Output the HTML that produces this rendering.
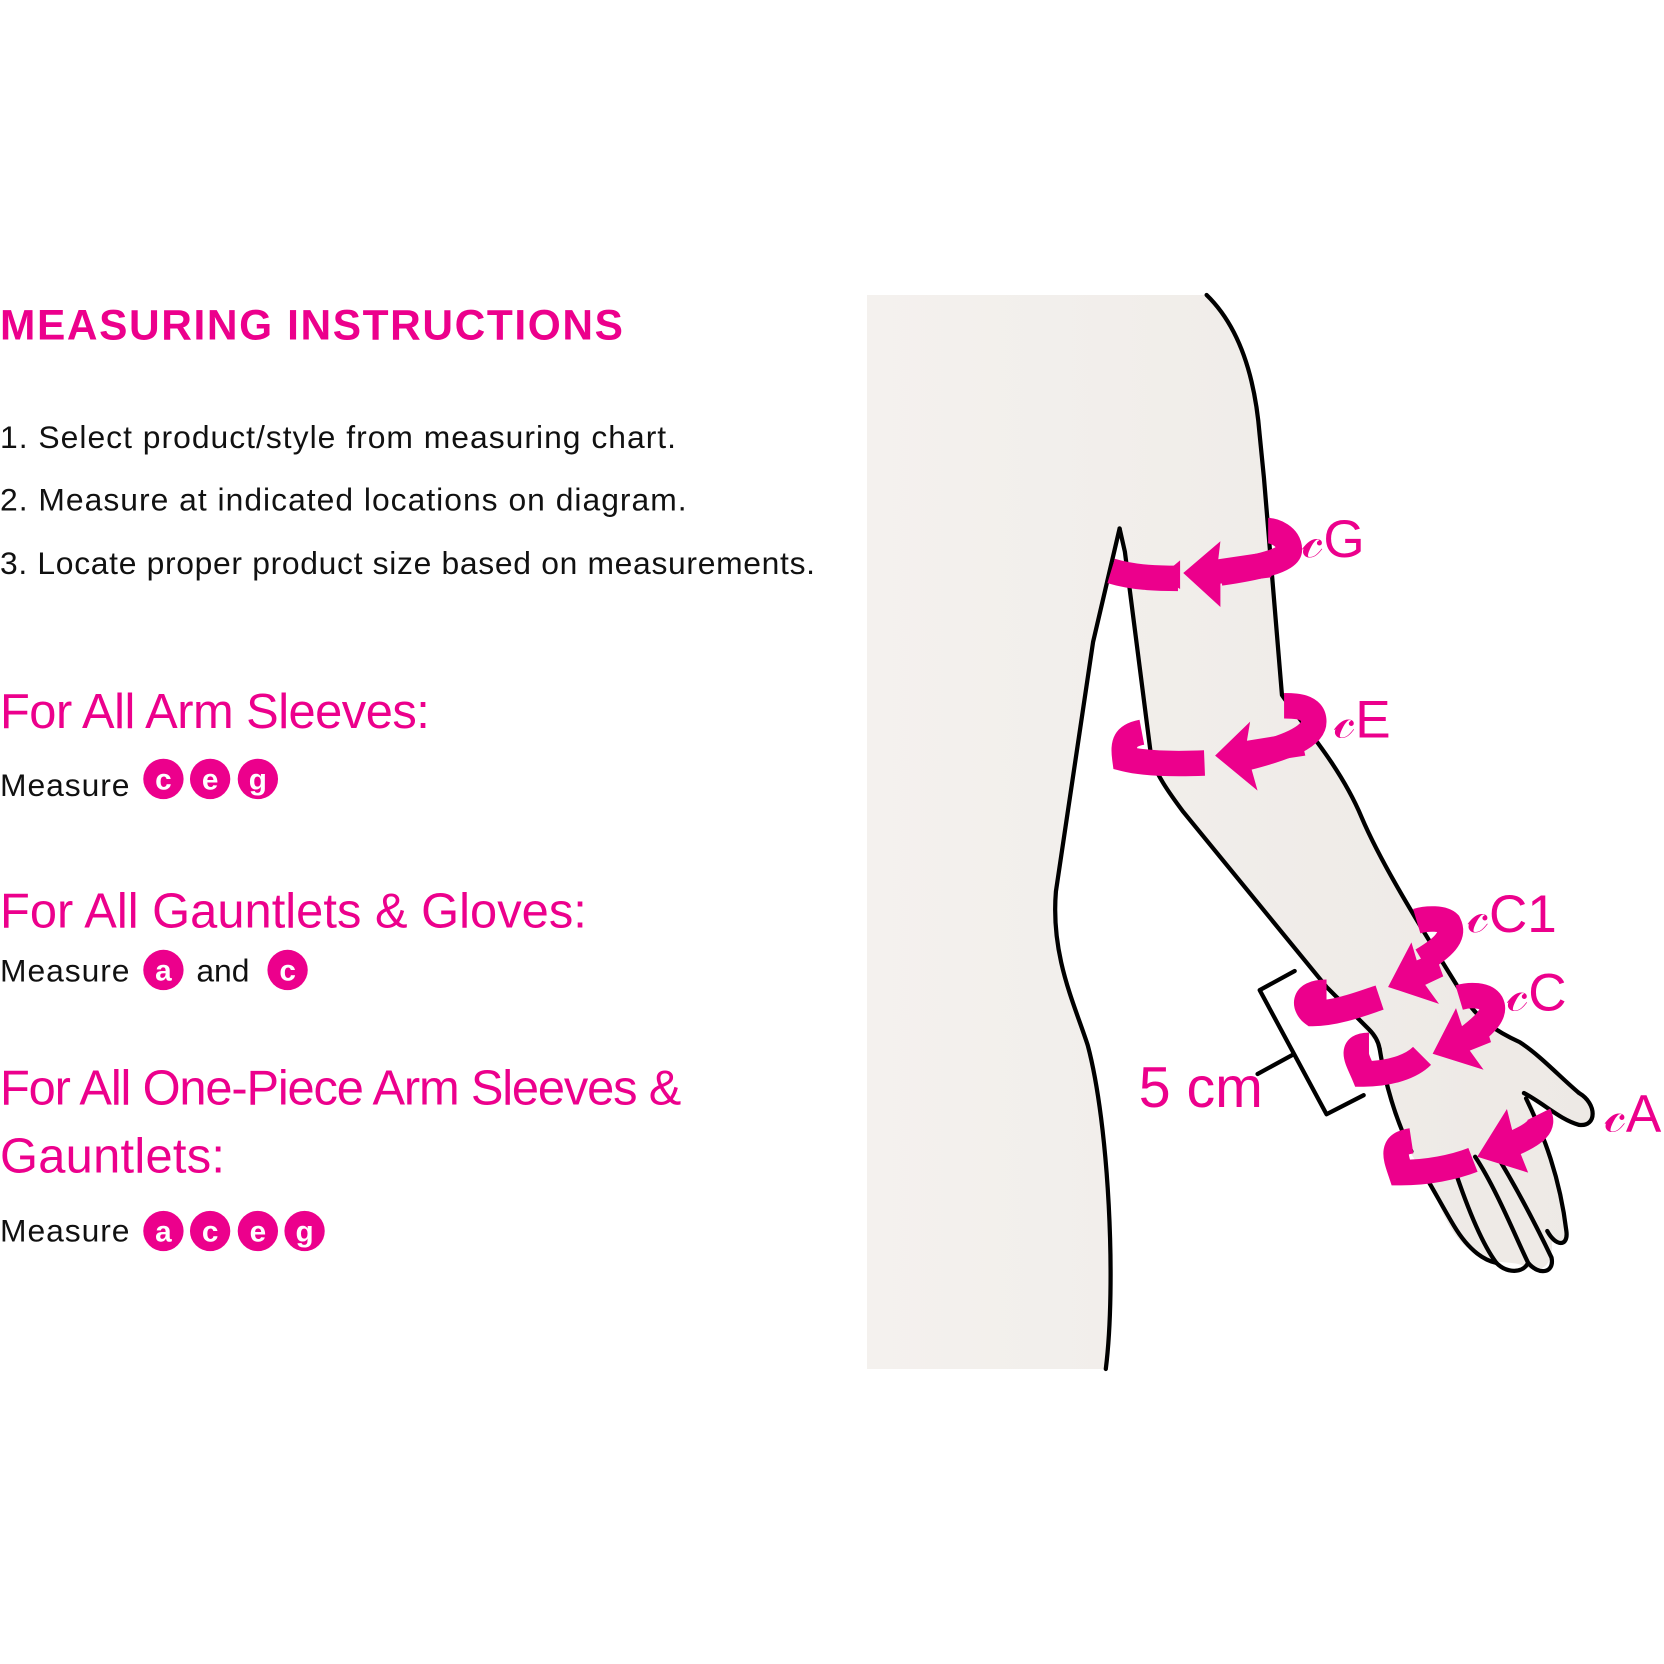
<!DOCTYPE html>
<html><head><meta charset="utf-8"><style>
html,body{margin:0;padding:0;background:#fff;}
svg{display:block}
text{font-family:"Liberation Sans",sans-serif}
</style></head><body>
<svg width="1664" height="1664" viewBox="0 0 1568 1568" xmlns="http://www.w3.org/2000/svg">
<defs><linearGradient id="g" x1="0" x2="1"><stop offset="0" stop-color="#f4f1ee"/><stop offset="1" stop-color="#ede9e5"/></linearGradient></defs>
<path fill="url(#g)" d="M817 278 L1137 278 C1170 310 1183 360 1187 410 L1191 450 L1208 655 C1225 680 1262 720 1283 770 C1300 810 1330 860 1380 940 C1392 960 1410 972 1432 982 C1452 995 1470 1015 1488 1030 C1505 1040 1505 1062 1488 1060 C1470 1055 1455 1040 1438 1030 C1455 1060 1470 1110 1476 1160 C1478 1175 1468 1175 1462 1165 C1465 1190 1455 1200 1440 1195 C1425 1185 1405 1195 1395 1180 C1380 1180 1365 1160 1350 1120 C1340 1105 1332 1090 1325 1080 C1315 1050 1305 1010 1300 985 L1290 975 L1115 765 C1100 745 1090 730 1085 715 L1060 520 L1055 498 L1030 605 L995 840 C990 900 1012 945 1025 985 C1045 1060 1052 1210 1042 1290 L817 1290 Z"/>
<g fill="none" stroke="#000" stroke-width="4" stroke-linejoin="round" stroke-linecap="round">
<path d="M1137 278 C1170 310 1183 360 1187 410 L1191 450 L1208 655 C1225 680 1262 720 1283 770 C1300 810 1330 860 1380 940 C1392 960 1410 972 1432 982 C1452 995 1470 1015 1488 1030 C1505 1040 1505 1062 1488 1060 C1470 1055 1455 1040 1436 1030"/>
<path d="M1438 1035 C1455 1070 1470 1110 1476 1160 C1478 1175 1466 1175 1458 1160"/>
<path d="M1405 1080 C1430 1120 1450 1160 1462 1185 C1465 1200 1450 1202 1440 1190 C1430 1170 1410 1120 1390 1090"/>
<path d="M1440 1190 C1435 1200 1420 1200 1410 1190 C1395 1170 1380 1130 1370 1100"/>
<path d="M1410 1190 C1400 1188 1385 1180 1370 1155 C1358 1135 1345 1110 1335 1095"/>
<path d="M1300 988 C1305 1020 1315 1055 1330 1085"/>
<path d="M1055 498 L1030 605 L995 840 C990 900 1012 945 1025 985 C1045 1060 1052 1210 1042 1290"/>
<path d="M1055 498 L1060 520 L1085 715 C1090 730 1100 745 1115 765 L1250 930 L1290 970 C1300 980 1300 990 1300 988"/>
<path d="M1220 915 L1187 933 L1250 1050 L1285 1032"/>
<path d="M1185 1012 L1218 994"/>
</g>
<g fill="none" stroke="#ec008c" stroke-width="24" stroke-linecap="butt">
<path d="M1047 538 C1070 545 1095 545 1110 545"/>
<path d="M1150 540 C1185 535 1215 528 1215 518 C1215 505 1200 500 1195 500"/>
<path d="M1076 690 C1060 693 1058 700 1060 715 C1080 720 1110 720 1135 719"/>
<path d="M1175 714 C1210 705 1238 695 1238 680 C1238 665 1220 665 1210 665"/>
<path d="M1250 935 C1225 935 1230 950 1237 955 C1260 955 1285 945 1300 940"/>
<path d="M1340 905 C1365 890 1370 880 1365 870 C1360 865 1345 865 1335 868"/>
<path d="M1290 985 C1270 985 1280 1000 1285 1012 C1310 1012 1330 1005 1340 995"/>
<path d="M1383 978 C1400 965 1410 955 1405 945 C1400 937 1385 937 1375 940"/>
<path d="M1330 1075 C1310 1078 1315 1090 1320 1105 C1345 1105 1370 1100 1388 1093"/>
<path d="M1420 1080 C1450 1068 1455 1060 1450 1050"/>
</g>
<g fill="#ec008c">
<polygon points="1115,540 1150,510 1148,527 1195,520 1198,544 1150,550 1150,572"/>
<polygon points="1145,712 1178,680 1175,698 1225,690 1230,712 1178,720 1185,745"/>
<polygon points="1308,930 1330,888 1335,905 1352,898 1360,920 1343,928 1356,946"/>
<polygon points="1350,993 1372,950 1378,968 1398,960 1405,982 1385,990 1398,1008"/>
<polygon points="1392,1090 1420,1045 1425,1065 1445,1055 1455,1075 1432,1085 1440,1105"/>
<polygon points="1100,538 1112,528 1112,555 1100,548"/>
</g>
<g fill="#ec008c" font-size="50">
<text x="1227" y="525">𝒸G</text>
<text x="1257" y="695">𝒸E</text>
<text x="1383" y="878">𝒸C1</text>
<text x="1420" y="952">𝒸C</text>
<text x="1512" y="1066">𝒸A</text>
<text x="1073" y="1043" font-size="54">5 cm</text>
</g>
<text x="0" y="320" fill="#ec008c" font-size="40" font-weight="bold" textLength="587">MEASURING INSTRUCTIONS</text>
<g font-size="30" fill="#111">
<text x="0" y="422" textLength="637">1.  Select product/style from measuring chart.</text>
<text x="0" y="481" textLength="647">2.  Measure at indicated locations on diagram.</text>
<text x="0" y="541" textLength="768">3.  Locate proper product size based on measurements.</text>
</g>
<g font-size="46" fill="#ec008c">
<text x="0" y="686" textLength="405">For All Arm Sleeves:</text>
<text x="0" y="874" textLength="553">For All Gauntlets &amp; Gloves:</text>
<text x="0" y="1041" textLength="642">For All One-Piece Arm Sleeves &amp;</text>
<text x="0" y="1105" textLength="212">Gauntlets:</text>
</g>
<g font-size="30" fill="#111">
<text x="0" y="750" textLength="122">Measure</text>
<text x="0" y="925" textLength="122">Measure</text>
<text x="185" y="925">and</text>
<text x="0" y="1170" textLength="122">Measure</text>
</g>
<g fill="#ec008c">
<circle cx="154" cy="734" r="19"/><circle cx="198" cy="734" r="19"/><circle cx="243" cy="734" r="19"/>
<circle cx="154" cy="914" r="19"/><circle cx="271" cy="914" r="19"/>
<circle cx="154" cy="1160" r="19"/><circle cx="198" cy="1160" r="19"/><circle cx="243" cy="1160" r="19"/><circle cx="287" cy="1160" r="19"/>
</g>
<g fill="#fff" font-size="28" font-weight="bold" text-anchor="middle">
<text x="154" y="744">c</text><text x="198" y="744">e</text><text x="243" y="744">g</text>
<text x="154" y="924">a</text><text x="271" y="924">c</text>
<text x="154" y="1170">a</text><text x="198" y="1170">c</text><text x="243" y="1170">e</text><text x="287" y="1170">g</text>
</g>
</svg>
</body></html>
